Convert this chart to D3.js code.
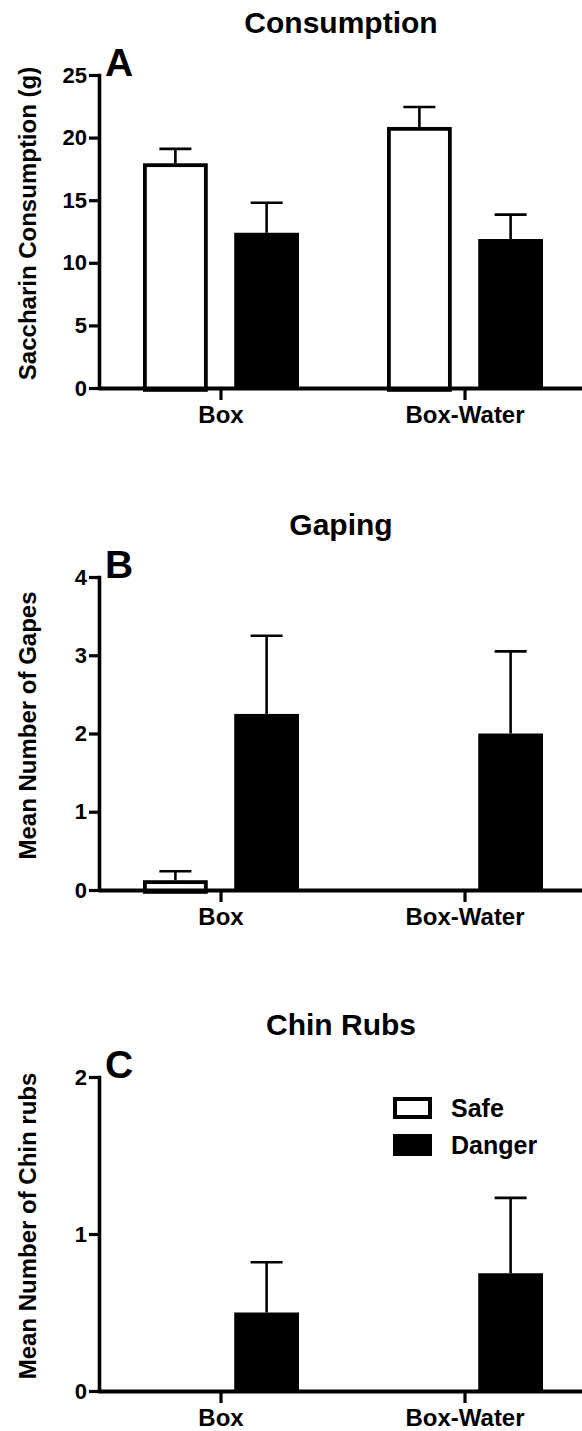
<!DOCTYPE html>
<html>
<head>
<meta charset="utf-8">
<script src="https://cdn.jsdelivr.net/npm/d3@7"></script>
<style>
  body { margin: 0; background: #fff; }
  text { font-family: "Liberation Sans", Arial, sans-serif; font-weight: bold; fill: #000; }
</style>
</head>
<body>
<div id="chart"></div>
<script>
// Data
const groups = ["Box", "Box-Water"];
const series = ["Safe", "Danger"];

const consumptionSafe = [17.95, 20.85];
const consumptionSafeErr = [1.15, 1.6];
const consumptionDanger = [12.4, 11.9];
const consumptionDangerErr = [2.4, 1.95];
const consumptionTicks = [0, 5, 10, 15, 20, 25];

const gapingSafe = [0.125, 0];
const gapingSafeErr = [0.115, 0];
const gapingDanger = [2.25, 2.0];
const gapingDangerErr = [1.0, 1.05];
const gapingTicks = [0, 1, 2, 3, 4];

const chinSafe = [0, 0];
const chinSafeErr = [0, 0];
const chinDanger = [0.5, 0.75];
const chinDangerErr = [0.32, 0.48];
const chinTicks = [0, 1, 2];

const W = 582, H = 1431;
const axisX = 99;

const svg = d3.select("#chart").append("svg")
    .attr("width", W)
    .attr("height", H);

const x0 = d3.scaleBand()
    .domain(groups)
    .range([axisX, 587]);

const bw = x0.bandwidth();
const x1 = d3.scaleBand()
    .domain(series)
    .range([bw / 2 - 78, bw / 2 + 78])
    .paddingInner(0.29);

function drawPanel(p) {
    const y = d3.scaleLinear()
        .domain([0, p.ticks[p.ticks.length - 1]])
        .range([p.bottom, p.top]);

    const g = svg.append("g");

    // rows: one per group x series
    const rows = [];
    groups.forEach((grp, i) => {
        rows.push({ grp, s: "Safe", v: p.safe[i], e: p.safeErr[i] });
        rows.push({ grp, s: "Danger", v: p.danger[i], e: p.dangerErr[i] });
    });

    // error bars (upper only)
    const eb = g.selectAll(".err")
        .data(rows.filter(d => d.e > 0))
        .enter().append("g")
        .attr("class", "err");
    eb.append("line")
        .attr("x1", d => x0(d.grp) + x1(d.s) + x1.bandwidth() / 2)
        .attr("x2", d => x0(d.grp) + x1(d.s) + x1.bandwidth() / 2)
        .attr("y1", d => y(d.v))
        .attr("y2", d => y(d.v + d.e))
        .attr("stroke", "#000")
        .attr("stroke-width", 2.6);
    eb.append("line")
        .attr("x1", d => x0(d.grp) + x1(d.s) + x1.bandwidth() / 2 - 16)
        .attr("x2", d => x0(d.grp) + x1(d.s) + x1.bandwidth() / 2 + 16)
        .attr("y1", d => y(d.v + d.e))
        .attr("y2", d => y(d.v + d.e))
        .attr("stroke", "#000")
        .attr("stroke-width", 2.6);

    // bars
    const sw = 3.8;
    g.selectAll(".bar")
        .data(rows.filter(d => d.v > 0))
        .enter().append("rect")
        .attr("class", "bar")
        .attr("x", d => x0(d.grp) + x1(d.s) + (d.s === "Safe" ? sw / 2 : 0))
        .attr("width", d => x1.bandwidth() - (d.s === "Safe" ? sw : 0))
        .attr("y", d => y(d.v) + (d.s === "Safe" ? sw / 2 : 0))
        .attr("height", d => y(0) - y(d.v))
        .attr("fill", d => d.s === "Safe" ? "#fff" : "#000")
        .attr("stroke", d => d.s === "Safe" ? "#000" : "none")
        .attr("stroke-width", sw);

    // y axis
    const yAxis = g.append("g")
        .attr("transform", `translate(${axisX},0)`)
        .call(d3.axisLeft(y).tickValues(p.ticks).tickFormat(d3.format("d"))
            .tickSize(10).tickSizeOuter(0).tickPadding(2));
    yAxis.select(".domain").attr("stroke-width", 3.6).attr("stroke-linecap", "square");
    yAxis.selectAll(".tick line").attr("stroke-width", 3.2);
    yAxis.selectAll(".tick text")
        .attr("font-size", 22)
        .attr("font-family", null)
        .attr("fill", "#000");

    // x axis
    const xAxis = g.append("g")
        .attr("transform", `translate(0,${p.bottom})`)
        .call(d3.axisBottom(x0).tickSize(12).tickSizeOuter(0).tickPadding(6));
    xAxis.select(".domain").attr("stroke-width", 3.8);
    xAxis.selectAll(".tick line").attr("stroke-width", 3.2);
    xAxis.selectAll(".tick text")
        .attr("font-size", 24)
        .attr("font-family", null)
        .attr("fill", "#000");

    // title
    g.append("text")
        .attr("x", 341)
        .attr("y", p.top - 42)
        .attr("text-anchor", "middle")
        .attr("font-size", 30)
        .text(p.title);

    // panel letter
    g.append("text")
        .attr("x", 105)
        .attr("y", p.top + 1)
        .attr("font-size", 39)
        .text(p.letter);

    // y label
    g.append("text")
        .attr("transform", `translate(36,${(p.top + p.bottom) / 2 - 8}) rotate(-90)`)
        .attr("text-anchor", "middle")
        .attr("font-size", 24)
        .text(p.ylabel);

    return y;
}

drawPanel({
    title: "Consumption", letter: "A", ylabel: "Saccharin Consumption (g)",
    top: 75, bottom: 388, ticks: consumptionTicks,
    safe: consumptionSafe, safeErr: consumptionSafeErr,
    danger: consumptionDanger, dangerErr: consumptionDangerErr
});

drawPanel({
    title: "Gaping", letter: "B", ylabel: "Mean Number of Gapes",
    top: 577, bottom: 890, ticks: gapingTicks,
    safe: gapingSafe, safeErr: gapingSafeErr,
    danger: gapingDanger, dangerErr: gapingDangerErr
});

drawPanel({
    title: "Chin Rubs", letter: "C", ylabel: "Mean Number of Chin rubs",
    top: 1077, bottom: 1391, ticks: chinTicks,
    safe: chinSafe, safeErr: chinSafeErr,
    danger: chinDanger, dangerErr: chinDangerErr
});

// legend (in panel C)
const legend = svg.append("g")
    .attr("transform", "translate(393,1097)");

legend.selectAll("rect")
    .data(series)
    .enter().append("rect")
    .attr("x", d => d === "Safe" ? 2 : 0)
    .attr("y", (d, i) => i * 37 + (d === "Safe" ? 2 : 0))
    .attr("width", d => d === "Safe" ? 35 : 39)
    .attr("height", d => d === "Safe" ? 18 : 22)
    .attr("fill", d => d === "Safe" ? "#fff" : "#000")
    .attr("stroke", d => d === "Safe" ? "#000" : "none")
    .attr("stroke-width", 4);

legend.selectAll("text")
    .data(series)
    .enter().append("text")
    .attr("x", 58)
    .attr("y", (d, i) => i * 37 + 20)
    .attr("font-size", 25)
    .text(d => d);
</script>
</body>
</html>
